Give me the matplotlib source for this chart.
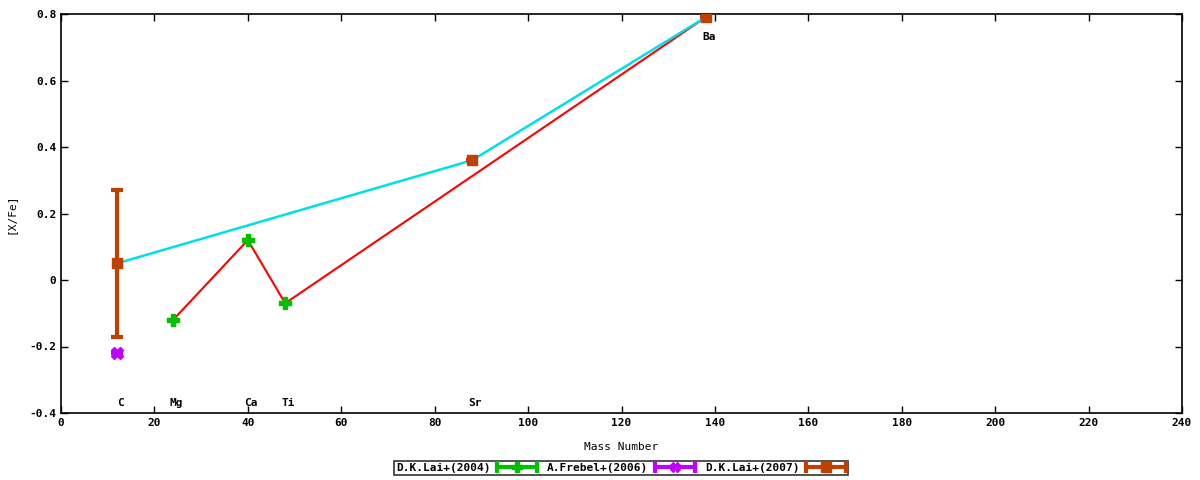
import matplotlib
matplotlib.use('Agg')
import matplotlib.pyplot as plt
from matplotlib.lines import Line2D
from matplotlib.legend_handler import HandlerBase

plt.rcParams['font.family'] = 'DejaVu Sans Mono'
plt.rcParams['font.weight'] = 'bold'
plt.rcParams['font.size'] = 8

# element labels and mass numbers
elements = ['C', 'Mg', 'Ca', 'Ti', 'Sr', 'Ba']
mass = [12, 24, 40, 48, 88, 138]
label_y = [-0.37, -0.37, -0.37, -0.37, -0.37, 0.73]

# D.K.Lai+(2004)
lai04_x = [24, 40, 48]
lai04_y = [-0.12, 0.12, -0.07]
lai04_err = [0, 0, 0]

# A.Frebel+(2006)
frebel_x = [12]
frebel_y = [-0.22]
frebel_err = [0]

# D.K.Lai+(2007)
lai07_x = [12, 88, 138]
lai07_y = [0.05, 0.36, 0.79]
lai07_err = [0.22, 0, 0]

# connecting lines
red_x = [24, 40, 48, 138]
red_y = [-0.12, 0.12, -0.07, 0.79]
cyan_x = [12, 88, 138]
cyan_y = [0.05, 0.36, 0.79]


# gnuplot style key sample: horizontal bar with caps and a point in the middle
class HandlerGnu(HandlerBase):
    def create_artists(self, legend, orig_handle, xdescent, ydescent,
                       width, height, fontsize, trans):
        c = orig_handle[0].get_color()
        m = orig_handle[0].get_marker()
        y = height / 2 - ydescent
        bar = Line2D([-xdescent, width - xdescent], [y, y], color=c, lw=3, transform=trans)
        caps = Line2D([-xdescent, width - xdescent], [y, y], color=c, lw=0,
                      marker='|', ms=9, mew=3, transform=trans)
        pt = Line2D([(width) / 2 - xdescent], [y], color=c, lw=0,
                    marker=m, ms=7, transform=trans)
        return [bar, caps, pt]


fig = plt.figure(figsize=(12, 4.8), dpi=100)
ax = fig.add_axes([61/1200, 1-413/480, (1182-61)/1200, (413-14)/480])

ax.plot(red_x, red_y, color='#ff0000', lw=1.5, zorder=2)
ax.plot(cyan_x, cyan_y, color='#00e0e8', lw=1.8, zorder=2)

h1 = ax.errorbar(lai04_x, lai04_y, yerr=lai04_err, fmt='P', color='#00c000',
                 ms=8, lw=3, capsize=4, capthick=3, label='D.K.Lai+(2004)', zorder=3)
h2 = ax.errorbar(frebel_x, frebel_y, yerr=frebel_err, fmt='X', color='#c000ff',
                 ms=8, lw=3, capsize=4, capthick=3, label='A.Frebel+(2006)', zorder=3)
h3 = ax.errorbar(lai07_x, lai07_y, yerr=lai07_err, fmt='s', color='#c04000',
                 ms=7, lw=3, capsize=4, capthick=3, label='D.K.Lai+(2007)', zorder=3)

for name, x, y in zip(elements, mass, label_y):
    ax.text(x + 0.7, y, name, ha='center', va='center')

ax.set_xlim(0, 240)
ax.set_ylim(-0.4, 0.8)
ax.set_xticks(range(0, 241, 20))
ax.set_yticks([-0.4, -0.2, 0, 0.2, 0.4, 0.6, 0.8])
ax.set_yticklabels(['-0.4', '-0.2', '0', '0.2', '0.4', '0.6', '0.8'])
ax.tick_params(direction='in', top=True, right=True, length=5, width=1)
for s in ax.spines.values():
    s.set_linewidth(1.2)

ax.set_xlabel('Mass Number', labelpad=10)
ax.set_ylabel('[X/Fe]', labelpad=10)

leg = fig.legend(handles=[h1, h2, h3], loc='center', bbox_to_anchor=(621/1200, 1-468/480),
                 ncol=3, markerfirst=False, frameon=True, fancybox=False,
                 edgecolor='black', handlelength=3.6, columnspacing=0.9,
                 handletextpad=0.6, borderpad=0.2, borderaxespad=0,
                 handler_map={type(h1): HandlerGnu()})
leg.get_frame().set_linewidth(1.2)

fig.savefig('out.png', dpi=100)
